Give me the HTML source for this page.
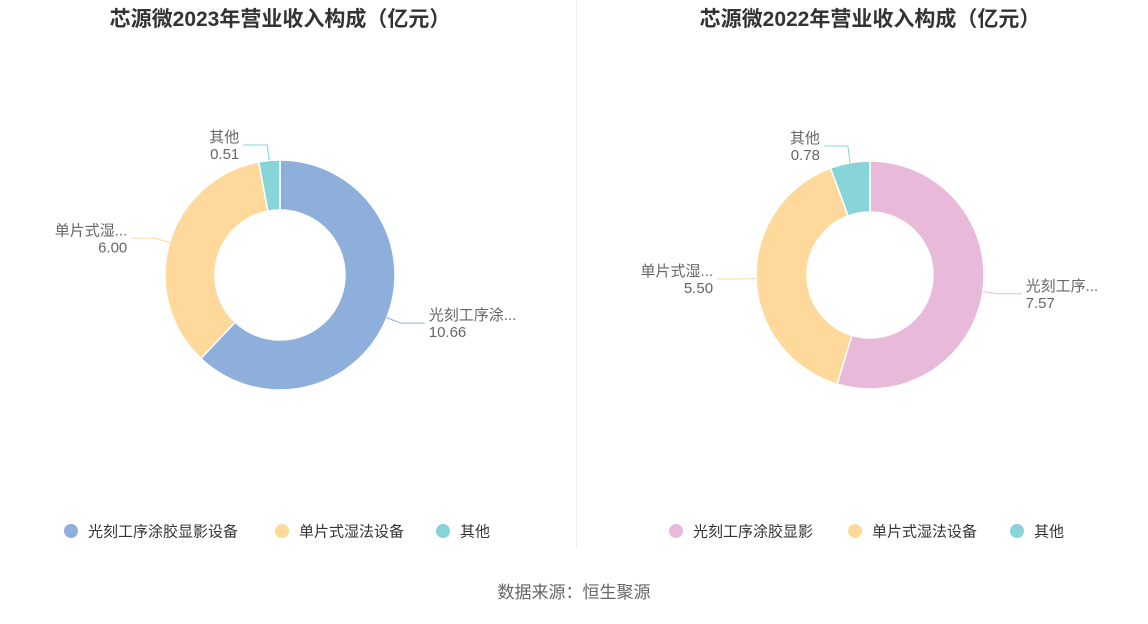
<!DOCTYPE html>
<html><head><meta charset="utf-8">
<style>
html,body{margin:0;padding:0;background:#fff;}
body{width:1148px;height:619px;overflow:hidden;font-family:"Liberation Sans","Noto Sans CJK SC",sans-serif;}
svg text{font-family:"Liberation Sans","Noto Sans CJK SC",sans-serif;}
</style></head>
<body>
<svg id="chart" width="1148" height="619" xmlns="http://www.w3.org/2000/svg">
<text x="280" y="26" text-anchor="middle" font-size="21" font-weight="bold" fill="#333">芯源微2023年营业收入构成（亿元）</text>
<text x="870" y="26" text-anchor="middle" font-size="21" font-weight="bold" fill="#333">芯源微2022年营业收入构成（亿元）</text>
<line x1="576.5" y1="0" x2="576.5" y2="548" stroke="#eeeeee" stroke-width="1"/>
<text x="574" y="598" text-anchor="middle" font-size="17" fill="#666">数据来源：恒生聚源</text>
</svg>
<script>
const categories2023 = ["光刻工序涂胶显影设备","单片式湿法设备","其他"];
const values2023 = [10.66, 6.00, 0.51];
const labels2023 = ["光刻工序涂...","单片式湿...","其他"];
const categories2022 = ["光刻工序涂胶显影","单片式湿法设备","其他"];
const values2022 = [7.57, 5.50, 0.78];
const labels2022 = ["光刻工序...","单片式湿...","其他"];

const NS = "http://www.w3.org/2000/svg";
const svg = document.getElementById('chart');
function mk(tag, attrs){const e=document.createElementNS(NS,tag);for(const k in attrs)e.setAttribute(k,attrs[k]);return e;}

function donut(cx, cy, R, r, values, labels, colors, key){
  const total = values.reduce((a,b)=>a+b,0);
  let a0 = 0;
  values.forEach((v,i)=>{
    const a1 = a0 + v/total*Math.PI*2;
    const pt=(rad,a)=>[cx+rad*Math.sin(a), cy-rad*Math.cos(a)];
    const large = (a1-a0)>Math.PI?1:0;
    const p1=pt(R,a0),p2=pt(R,a1),p3=pt(r,a1),p4=pt(r,a0);
    const path = mk('path',{d:`M${p1[0]},${p1[1]} A${R},${R} 0 ${large} 1 ${p2[0]},${p2[1]} L${p3[0]},${p3[1]} A${r},${r} 0 ${large} 0 ${p4[0]},${p4[1]} Z`,fill:colors[i],stroke:'#fff','stroke-width':1.5});
    
    
    svg.appendChild(path);
    const m=(a0+a1)/2;
    const s=pt(R,m);
    let e=pt(R+15,m);
    const right = Math.sin(m)>=0;
    if (v/total < 0.06) { e=[s[0]-2, cy-R-15]; }
    const hx = e[0] + (right?24:-24) * (v/total<0.06? (right?1:1):1);
    const line = mk('polyline',{points:`${s[0]},${s[1]} ${e[0]},${e[1]} ${hx},${e[1]}`,fill:'none',stroke:colors[i],'stroke-width':1});
    
    
    svg.appendChild(line);
    const tx = hx + (right?4:-4);
    const t = mk('text',{x:tx,y:e[1]-3,'text-anchor':right?'start':'end','font-size':15,fill:'#666'});
    
    
    t.textContent = labels[i];
    svg.appendChild(t);
    const t2 = mk('text',{x:tx,y:e[1]+14,'text-anchor':right?'start':'end','font-size':15,fill:'#666'});
    
    
    t2.textContent = v.toFixed(2);
    svg.appendChild(t2);
    a0=a1;
  });
}
function legend(items, colors, xs, key){
  items.forEach((name,i)=>{
    const g = mk('g',{});
    
    
    g.appendChild(mk('circle',{cx:xs[i],cy:531,r:7,fill:colors[i]}));
    const t=mk('text',{x:xs[i]+17,y:536.5,'font-size':15,fill:'#333'});
    t.textContent=name;
    g.appendChild(t);
    svg.appendChild(g);
  });
}
const c23=['#8eaedb','#fed99b','#87d4d9'];
const c22=['#e8b9d9','#fed99b','#87d4d9'];
donut(280,275,115,65,values2023,labels2023,c23,'chart-2023');
donut(870,275,114,63,values2022,labels2022,c22,'chart-2022');
legend(categories2023,c23,[71,282,443],'chart-2023');
legend(categories2022,c22,[676,855,1017],'chart-2022');
</script>
</body></html>
